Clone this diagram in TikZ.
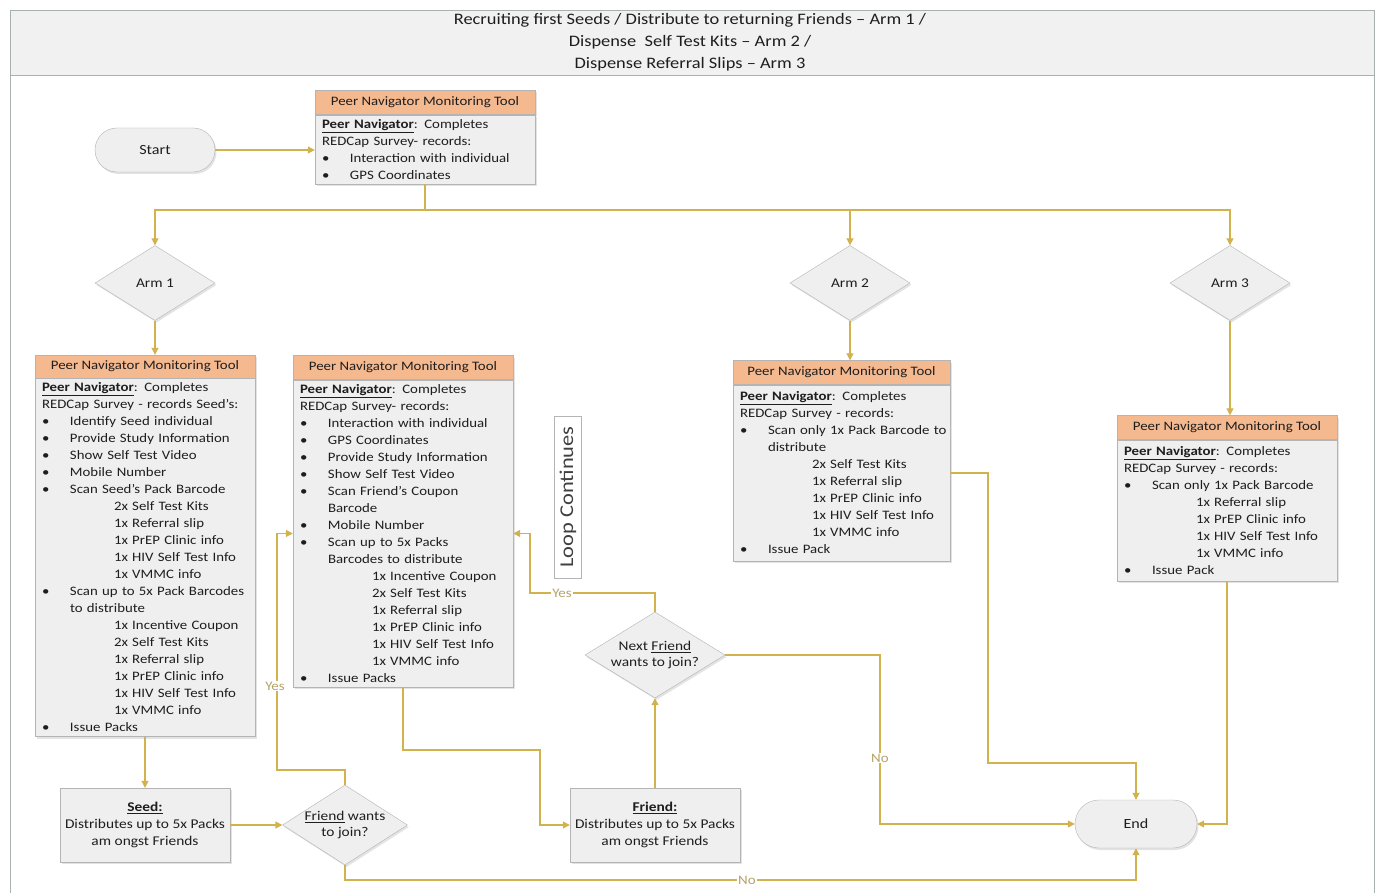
\documentclass[tikz,border=0pt]{standalone}
\usepackage{fontspec}
\setmainfont{Carlito}[FakeStretch=1.15]
\usetikzlibrary{shapes.geometric,arrows.meta,shadows,calc}
\definecolor{hdr}{HTML}{F5B990}
\definecolor{bodyc}{HTML}{EFEFEF}
\definecolor{edge}{HTML}{B4B4B4}
\definecolor{conn}{HTML}{D2B24C}
\definecolor{lbl}{HTML}{B5A36A}
\definecolor{txt}{HTML}{1E1E1E}
\definecolor{frame}{HTML}{A8B0B0}
\definecolor{titlebg}{HTML}{F1F1F1}
\newcommand\Lb[1]{\mbox{\makebox[28pt][l]{\textbullet}#1}}
\newcommand\Lc[1]{\mbox{\hspace*{28pt}#1}}
\newcommand\Ls[1]{\mbox{\hspace*{72pt}#1}}
\newcommand\PN{\underline{\textbf{Peer Navigator}}: Completes}
\tikzset{
 shd/.style={drop shadow={opacity=0.22,shadow xshift=1.5pt,shadow yshift=-2pt}},
 hdrbox/.style={draw=edge, fill=hdr, minimum height=24pt, inner sep=0pt, font=\fontsize{12.9}{15}\selectfont, text=txt, shd},
 bodybox/.style={draw=edge, fill=bodyc, align=left, inner xsep=7pt, inner ysep=4.5pt, font=\fontsize{12.9}{17}\selectfont, text=txt, anchor=north, shd},
 diam/.style={diamond, draw=edge, fill=bodyc, inner sep=0pt, aspect=1.6, font=\fontsize{13.4}{16}\selectfont, align=center, text=txt, shd},
 term/.style={draw=edge, fill=bodyc, rounded corners=22pt, minimum width=120pt, minimum height=44pt, font=\fontsize{14}{16}\selectfont, text=txt, shd},
 pbox/.style={draw=edge, fill=bodyc, minimum width=170pt, minimum height=74pt, align=center, font=\fontsize{13.4}{17}\selectfont, text=txt, shd},
 arr/.style={draw=conn, line width=1.1pt, -{Triangle[length=7pt,width=7pt]}},
 ln/.style={draw=conn, line width=1.1pt},
 lab/.style={fill=white, text=lbl, inner sep=1pt, font=\fontsize{13}{15}\selectfont},
}
\begin{document}
\begin{tikzpicture}[x=1pt,y=-1pt]
\useasboundingbox (0,0) rectangle (1379,893);
\fill[white] (0,0) rectangle (1379,893);
\draw[frame, fill=titlebg] (10,10) rectangle (1374,75);
\draw[frame] (10,75) -- (10,893) (1374,75) -- (1374,893);
\node[font=\fontsize{16}{22}\selectfont, align=center, text=txt] (title) at (690,42.5)
 {Recruiting first Seeds / Distribute to returning Friends -- Arm 1 /\\
  Dispense\ \ Self Test Kits -- Arm 2 /\\
  Dispense Referral Slips -- Arm 3};

% top
\node[term] (start) at (155,150) {Start};
\node[hdrbox, minimum width=220pt] (th) at (425,102.5) {Peer Navigator Monitoring Tool};
\node[bodybox, text width=206pt] (tb) at (th.south) {\PN\\
REDCap Survey- records:\\
\Lb{Interaction with individual}\\
\Lb{GPS Coordinates}};

% arms
\node[diam, minimum width=120pt, minimum height=75pt] (a1d) at (155,283) {Arm 1};
\node[diam, minimum width=120pt, minimum height=75pt] (a2d) at (850,283) {Arm 2};
\node[diam, minimum width=120pt, minimum height=75pt] (a3d) at (1230,283) {Arm 3};

% arm 1 box
\node[hdrbox, minimum width=220pt, minimum height=23pt] (a1h) at (145,366.5) {Peer Navigator Monitoring Tool};
\node[bodybox, text width=206pt] (a1b) at (a1h.south) {\PN\\
REDCap Survey - records Seed's:\\
\Lb{Identify Seed individual}\\
\Lb{Provide Study Information}\\
\Lb{Show Self Test Video}\\
\Lb{Mobile Number}\\
\Lb{Scan Seed's Pack Barcode}\\
\Ls{2x Self Test Kits}\\
\Ls{1x Referral slip}\\
\Ls{1x PrEP Clinic info}\\
\Ls{1x HIV Self Test Info}\\
\Ls{1x VMMC info}\\
\Lb{Scan up to 5x Pack Barcodes}\\
\Lc{to distribute}\\
\Ls{1x Incentive Coupon}\\
\Ls{2x Self Test Kits}\\
\Ls{1x Referral slip}\\
\Ls{1x PrEP Clinic info}\\
\Ls{1x HIV Self Test Info}\\
\Ls{1x VMMC info}\\
\Lb{Issue Packs}};

% middle box
\node[hdrbox, minimum width=220pt] (mh) at (403,367.5) {Peer Navigator Monitoring Tool};
\node[bodybox, text width=206pt] (mb) at (mh.south) {\PN\\
REDCap Survey- records:\\
\Lb{Interaction with individual}\\
\Lb{GPS Coordinates}\\
\Lb{Provide Study Information}\\
\Lb{Show Self Test Video}\\
\Lb{Scan Friend's Coupon}\\
\Lc{Barcode}\\
\Lb{Mobile Number}\\
\Lb{Scan up to 5x Packs}\\
\Lc{Barcodes to distribute}\\
\Ls{1x Incentive Coupon}\\
\Ls{2x Self Test Kits}\\
\Ls{1x Referral slip}\\
\Ls{1x PrEP Clinic info}\\
\Ls{1x HIV Self Test Info}\\
\Ls{1x VMMC info}\\
\Lb{Issue Packs}};

% arm 2 box
\node[hdrbox, minimum width=217pt] (a2h) at (841.5,372.5) {Peer Navigator Monitoring Tool};
\node[bodybox, text width=203pt, inner ysep=7pt] (a2b) at (a2h.south) {\PN\\
REDCap Survey - records:\\
\Lb{Scan only 1x Pack Barcode to}\\
\Lc{distribute}\\
\Ls{2x Self Test Kits}\\
\Ls{1x Referral slip}\\
\Ls{1x PrEP Clinic info}\\
\Ls{1x HIV Self Test Info}\\
\Ls{1x VMMC info}\\
\Lb{Issue Pack}};

% arm 3 box
\node[hdrbox, minimum width=220pt] (a3h) at (1227,427.5) {Peer Navigator Monitoring Tool};
\node[bodybox, text width=206pt, inner ysep=6.5pt] (a3b) at (a3h.south) {\PN\\
REDCap Survey - records:\\
\Lb{Scan only 1x Pack Barcode}\\
\Ls{1x Referral slip}\\
\Ls{1x PrEP Clinic info}\\
\Ls{1x HIV Self Test Info}\\
\Ls{1x VMMC info}\\
\Lb{Issue Pack}};

% bottom row
\node[pbox] (seed) at (145,825) {\underline{\textbf{Seed:}}\\Distributes up to 5x Packs\\am ongst Friends};
\node[diam, minimum width=120pt, minimum height=80pt] (fw) at (345,825) {\underline{Friend} wants\\to join?};
\node[pbox] (fr) at (655,825) {\underline{\textbf{Friend:}}\\Distributes up to 5x Packs\\am ongst Friends};
\node[diam, minimum width=140pt, minimum height=86pt] (nf) at (655,655) {Next \underline{Friend}\\wants to join?};
\node[term, minimum width=122pt, minimum height=48pt, rounded corners=24pt] (end) at (1136,824) {End};
\node[draw=edge, fill=white, rotate=90, minimum width=162pt, minimum height=27pt, inner sep=2pt,
      font=\fontsize{19.5}{21}\selectfont, text=txt!85] (loop) at (568,497) {Loop Continues};

% connectors
\coordinate (sp) at (425,210);
\draw[arr] (start.east) -- (start.east -| tb.west);
\draw[ln] (tb.south) -- (sp);
\draw[arr] (sp) -| (a1d.north);
\draw[arr] (sp) -| (a2d.north);
\draw[arr] (sp) -| (a3d.north);
\draw[arr] (a1d.south) -- (a1d.south |- a1h.north);
\draw[arr] (a2d.south) -- (a2d.south |- a2h.north);
\draw[arr] (a3d.south) -- (a3d.south |- a3h.north);
\draw[arr] (a1b.south) -- (seed.north);
\draw[arr] (seed.east) -- (fw.west);

\coordinate (yA) at (277,770);
\draw[arr] (fw.north) |- (yA) |- (mb.west);
\node[lab] (ly1) at (275,686) {Yes};

\coordinate (nB) at (747,880);
\draw[arr] (fw.south) |- (nB) -| (end.south);
\node[lab] (ln1) at (747,880) {No};

\coordinate (mf) at (540,750);
\draw[arr] (mb.south) |- (mf) |- (fr.west);
\draw[arr] (fr.north) -- (nf.south);

\coordinate (yB) at (530,593);
\draw[arr] (nf.north) |- (yB) |- (mb.east);
\node[lab] (ly2) at (562,593) {Yes};

\coordinate (nC) at (880,824);
\draw[arr] (nf.east) -| (nC) -- (end.west);
\node[lab] (ln2) at (880,758) {No};

\coordinate (a2c) at (988,763);
\draw[arr] (a2b.east) -| (a2c) -| (end.north);
\draw[arr] (a3b.south) |- (end.east);
\end{tikzpicture}
\end{document}
